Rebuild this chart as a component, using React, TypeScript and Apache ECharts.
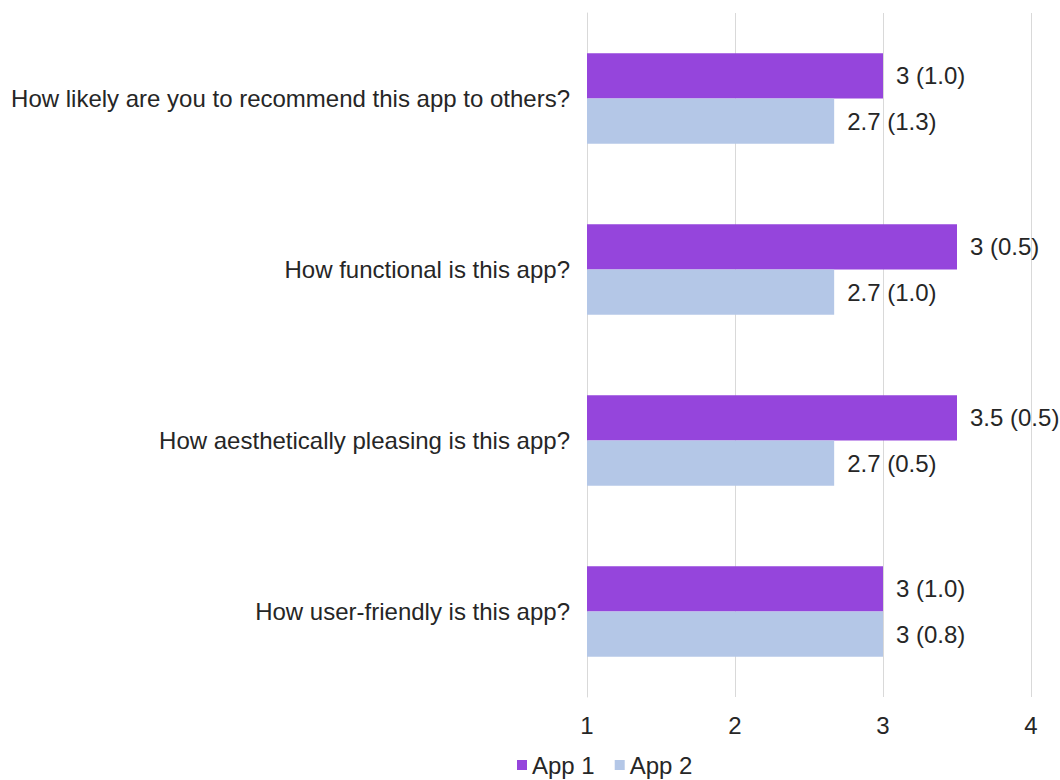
import React, { useEffect, useRef } from "react";
import * as echarts from "echarts";

const categories = [
  "How likely are you to recommend this app to others?",
  "How functional is this app?",
  "How aesthetically pleasing is this app?",
  "How user-friendly is this app?",
];
const app1Values = [3, 3.5, 3.5, 3];
const app2Values = [2.67, 2.67, 2.67, 3];
const app1Labels = ["3 (1.0)", "3 (0.5)", "3.5 (0.5)", "3 (1.0)"];
const app2Labels = ["2.7 (1.3)", "2.7 (1.0)", "2.7 (0.5)", "3 (0.8)"];
const seriesNames = ["App 1", "App 2"];

const FONT = "'Liberation Sans', Arial, sans-serif";
const FS = 24;

export default function App() {
  const ref = useRef<HTMLDivElement>(null);
  useEffect(() => {
    if (!ref.current) return;
    const chart = echarts.init(ref.current, null, { renderer: "svg" });
    const mkSeries = (name: string, values: number[], labels: string[], color: string) => ({
      name,
      type: "bar",
      data: values,
      barGap: "0%",
      barCategoryGap: "47%",
      itemStyle: { color },
      label: {
        show: true,
        position: "right",
        distance: 13,
        fontFamily: FONT,
        fontSize: FS,
        color: "#262626",
        formatter: (p: any) => labels[p.dataIndex],
      },
    });
    chart.setOption({
      animation: false,
      textStyle: { fontFamily: FONT },
      grid: { left: 587, right: 29, top: 13, bottom: 83, containLabel: false },
      xAxis: {
        type: "value",
        min: 1,
        max: 4,
        interval: 1,
        axisLine: { show: false },
        axisTick: { show: false },
        splitLine: { show: true, lineStyle: { color: "#d9d9d9", width: 1 } },
        axisLabel: { fontFamily: FONT, fontSize: FS, color: "#262626", margin: 16 },
      },
      yAxis: {
        type: "category",
        inverse: true,
        data: categories,
        axisLine: { show: true, lineStyle: { color: "#d9d9d9" } },
        axisTick: { show: false },
        axisLabel: { fontFamily: FONT, fontSize: FS, color: "#262626", margin: 17 },
      },
      legend: {
        data: seriesNames,
        left: 517,
        top: 753,
        padding: 0,
        itemWidth: 10,
        itemHeight: 10,
        itemGap: 20,
        icon: "rect",
        textStyle: { fontFamily: FONT, fontSize: FS, color: "#262626" },
      },
      series: [
        mkSeries(seriesNames[0], app1Values, app1Labels, "#9545DC"),
        mkSeries(seriesNames[1], app2Values, app2Labels, "#B4C7E7"),
      ],
    });
    return () => chart.dispose();
  }, []);
  return (
    <div
      ref={ref}
      style={{ position: "absolute", left: 0, top: 0, width: 1060, height: 780 }}
    />
  );
}
